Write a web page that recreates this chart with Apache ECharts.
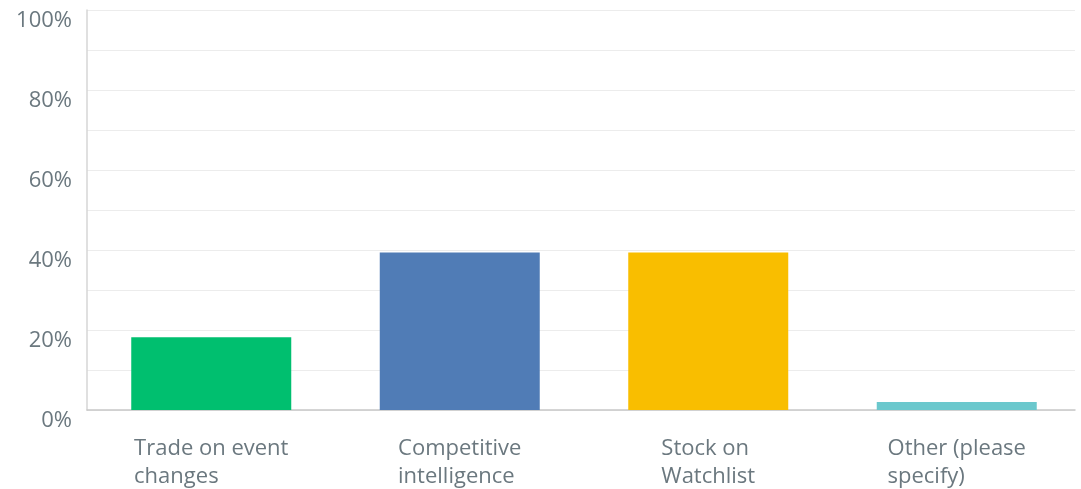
<!DOCTYPE html>
<html>
<head>
<meta charset="utf-8">
<script src="https://cdn.jsdelivr.net/npm/echarts@6/dist/echarts.min.js"></script>
<style>html,body{margin:0;padding:0;background:#fff;}#c{width:1081px;height:489px;}</style>
</head>
<body>
<div id="c"></div>
<script>
const categories = ['Trade on event\nchanges', 'Competitive\nintelligence', 'Stock on\nWatchlist', 'Other (please\nspecify)'];
const values = [18.2, 39.4, 39.4, 2.0];
const colors = ['#00bf6f', '#507cb6', '#f9be00', '#6bc8cd'];
const yTicks = [0, 20, 40, 60, 80, 100];

const FONT = 'Open Sans';
const TXT = '#6b787f';

const chart = echarts.init(document.getElementById('c'));
chart.setOption({
  animation: false,
  grid: [
    { left: 87, right: 6, top: 10, bottom: 79, containLabel: false },
    { left: 87, width: 998, top: 10, bottom: 79, containLabel: false }
  ],
  xAxis: [
    {
      gridIndex: 0,
      type: 'category',
      data: categories,
      axisLine: { show: true, lineStyle: { color: '#c8c8c8', width: 1.5 } },
      axisTick: { show: false },
      axisLabel: { show: false }
    },
    {
      gridIndex: 1,
      type: 'category',
      data: categories,
      axisLine: { show: false },
      axisTick: { show: false },
      axisLabel: {
        interval: 0,
        margin: 25,
        formatter: function (v) {
          return v.split('\n').map(function (s) { return '{a|' + s + '}'; }).join('\n');
        },
        rich: { a: { align: 'left', fontSize: 22, lineHeight: 28, color: TXT, fontFamily: FONT } }
      }
    }
  ],
  yAxis: [
    {
      gridIndex: 0,
      type: 'value',
      min: 0, max: 100, interval: 10,
      axisLine: { show: true, lineStyle: { color: '#d6d6d6', width: 1.5 } },
      axisTick: { show: false },
      splitLine: { show: true, lineStyle: { color: '#ececec', width: 1 } },
      axisLabel: {
        margin: 15,
        verticalAlign: 'top',
        color: TXT,
        fontSize: 22,
        fontFamily: FONT,
        formatter: function (v) { return yTicks.indexOf(v) >= 0 ? v + '%' : ''; }
      }
    },
    {
      gridIndex: 1,
      type: 'value',
      min: 0, max: 100, interval: 10,
      show: false,
      splitLine: { show: false }
    }
  ],
  series: [{
    type: 'bar',
    xAxisIndex: 1,
    yAxisIndex: 1,
    barWidth: 160,
    data: values.map(function (v, i) { return { value: v, itemStyle: { color: colors[i] } }; })
  }]
});
</script>
</body>
</html>
